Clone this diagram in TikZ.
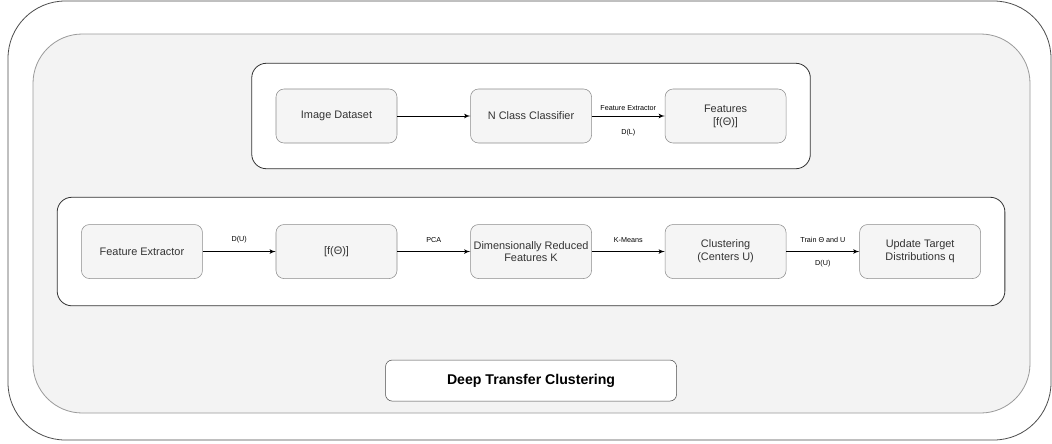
\documentclass[tikz,border=0pt]{standalone}
\usepackage{fontspec}
\setmainfont{Liberation Sans}
\usetikzlibrary{%
  shapes,arrows,positioning,fit,backgrounds,calc}
\tikzstyle{line} = [draw, -latex',line width=.6pt,fill=none]
\definecolor{mFill}{RGB}{245,245,245}
\definecolor{mEdge}{RGB}{140,140,140}
\definecolor{mText}{RGB}{51,51,51}
\definecolor{mBack}{RGB}{243,243,243}

\begin{document}
\begin{tikzpicture}[
    x=0.75pt, y=-0.75pt,
    box/.style={
      draw=mEdge,
      rectangle,
      rounded corners=6pt,
      minimum width=90.75pt,
      minimum height=40.5pt,
      fill=mFill,
      text=mText,
      align=center,
      font=\fontsize{8.2}{9.6}\selectfont,
      inner sep=2pt,
    },
    panel/.style={
      draw=black!80,
      rectangle,
      rounded corners=11pt,
      fill=white,
      line width=.6pt,
    },
    title/.style={
      draw=black!70,
      rectangle,
      rounded corners=5pt,
      minimum width=218.25pt,
      minimum height=30.75pt,
      fill=white,
      font=\fontsize{10.6}{12}\selectfont\bfseries,
    },
    lbl/.style={
      font=\fontsize{5.4}{6}\selectfont,
      inner sep=1pt,
    },
  ]

  \useasboundingbox (0,0) rectangle (1052,443);

  % top row
  \node[box] (img) at (336.5,116) {Image Dataset};
  \node[box,right=54.75pt of img] (ncc) {N Class Classifier};
  \node[box,right=54.75pt of ncc] (feat) {Features\\{}[f(Θ)]};

  % bottom row
  \node[box,below=60.75pt of ncc] (dimred) {Dimensionally Reduced\\Features K};
  \node[box,left=54.75pt of dimred] (fvec) {[f(Θ)]};
  \node[box,left=54.75pt of fvec] (fext) {Feature Extractor};
  \node[box,right=54.75pt of dimred] (clust) {Clustering\\(Centers U)};
  \node[box,right=54.75pt of clust] (upd) {Update Target\\Distributions q};

  \node[title,below=60.75pt of dimred] (dtc) {Deep Transfer Clustering};

  \draw[line] (img) -- (ncc);
  \draw[line] (ncc) -- node[lbl,above=2.4pt] {Feature Extractor}
    node[lbl,below=8.4pt] {D(L)} (feat);

  \draw[line] (fext) -- node[lbl,above=5.4pt] {D(U)} (fvec);
  \draw[line] (fvec) -- node[lbl,above=5.4pt] {PCA} (dimred);
  \draw[line] (dimred) -- node[lbl,above=5.4pt] {K-Means} (clust);
  \draw[line] (clust) -- node[lbl,above=5.4pt] {Train Θ and U}
    node[lbl,below=5.4pt] {D(U)} (upd);

  \begin{scope}[on background layer]
    \draw[black!70,line width=.6pt,rounded corners=43pt,fill=white]
      (8,1) rectangle (1051,440);
    \draw[black!40,line width=.6pt,rounded corners=37pt,fill=mBack]
      (33,34) rectangle (1030,413);
    \node[panel,fit=(img)(feat),inner xsep=18pt,inner ysep=19.1pt] (toppanel) {};
    \node[panel,fit=(fext)(upd),inner xsep=18pt,inner ysep=20.25pt] (botpanel) {};
  \end{scope}

\end{tikzpicture}
\end{document}
